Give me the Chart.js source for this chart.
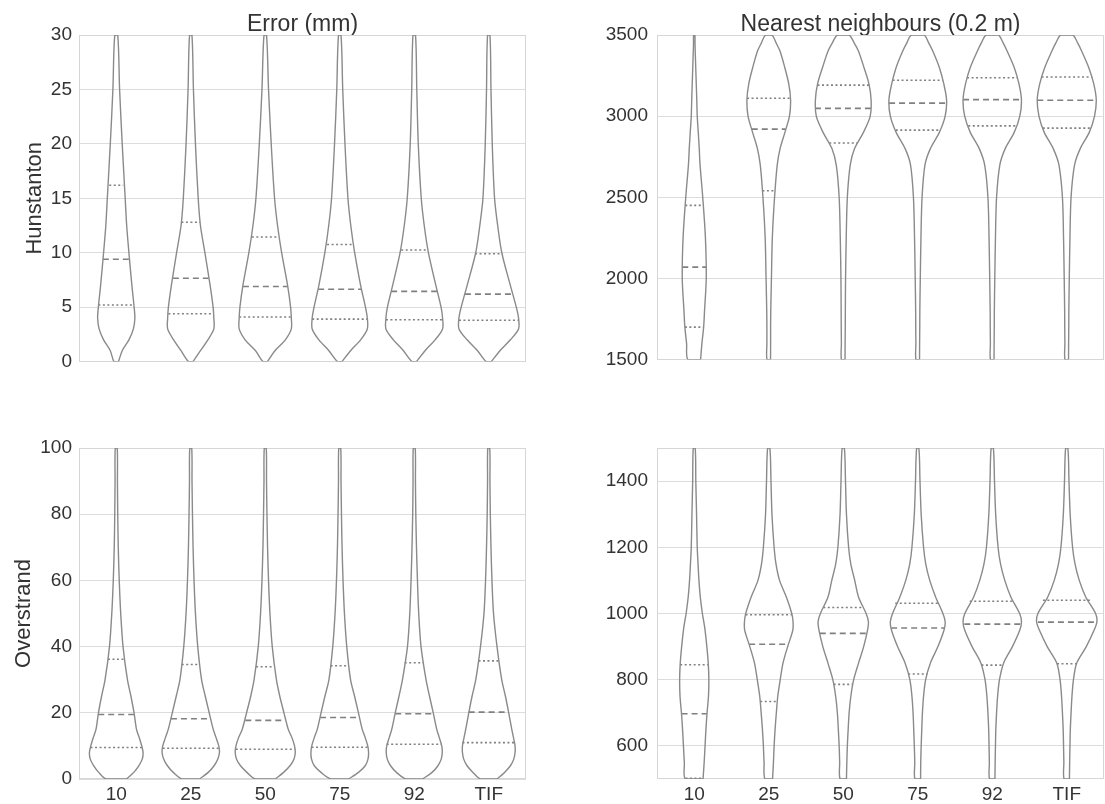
<!DOCTYPE html>
<html>
<head>
<meta charset="utf-8">
<script src="https://cdn.jsdelivr.net/npm/chart.js@4.4.1/dist/chart.umd.min.js"></script>
<style>
  body { margin: 0; background: #fff; width: 1105px; height: 804px; overflow: hidden; position: relative; }
  .panel { position: absolute; }
</style>
</head>
<body>
<div class="panel" style="left:0;top:0;width:540px;height:380px"><canvas id="hunErr"></canvas></div>
<div class="panel" style="left:560px;top:0;width:545px;height:380px"><canvas id="hunNN"></canvas></div>
<div class="panel" style="left:0;top:400px;width:540px;height:404px"><canvas id="ovsErr"></canvas></div>
<div class="panel" style="left:560px;top:400px;width:545px;height:404px"><canvas id="ovsNN"></canvas></div>
<script>
const categories = ["10", "25", "50", "75", "92", "TIF"];

// Hunstanton, error (mm). Violin half-widths are in category units.
const hunErrLevels = [0, 1, 2, 3, 4, 5, 7, 10, 12.5, 15, 20, 25, 30];
const hunErrWidths = [
  [0.03, 0.08, 0.17, 0.23, 0.25, 0.24, 0.21, 0.17, 0.14, 0.12, 0.08, 0.045, 0.02],
  [0.03, 0.13, 0.23, 0.31, 0.31, 0.30, 0.26, 0.19, 0.13, 0.10, 0.063, 0.036, 0.016],
  [0.03, 0.13, 0.27, 0.35, 0.35, 0.34, 0.30, 0.22, 0.165, 0.125, 0.08, 0.044, 0.017],
  [0.03, 0.145, 0.28, 0.37, 0.37, 0.345, 0.28, 0.20, 0.148, 0.11, 0.07, 0.04, 0.017],
  [0.03, 0.145, 0.28, 0.38, 0.38, 0.36, 0.29, 0.19, 0.134, 0.094, 0.054, 0.034, 0.017],
  [0.035, 0.15, 0.29, 0.40, 0.40, 0.37, 0.29, 0.175, 0.12, 0.078, 0.047, 0.03, 0.016]
];
const hunErrQ1 = [5.2, 4.4, 4.1, 3.9, 3.85, 3.8];
const hunErrMed = [9.4, 7.65, 6.9, 6.65, 6.45, 6.2];
const hunErrQ3 = [16.2, 12.8, 11.45, 10.75, 10.25, 9.9];
const hunErrQ1W = [0.24, 0.30, 0.35, 0.37, 0.38, 0.40];
const hunErrMedW = [0.18, 0.24, 0.30, 0.29, 0.31, 0.32];
const hunErrQ3W = [0.094, 0.125, 0.18, 0.17, 0.175, 0.184];
const hunErrTicks = [0, 5, 10, 15, 20, 25, 30];

// Hunstanton, nearest neighbours (0.2 m)
const hunNNLevels = [1500, 1600, 1700, 1800, 2000, 2250, 2500, 2700, 2800, 2900, 3000, 3100, 3200, 3300, 3400, 3450, 3500];
const hunNNWidths = [
  [0.085, 0.103, 0.126, 0.138, 0.161, 0.150, 0.114, 0.078, 0.067, 0.054, 0.040, 0.034, 0.027, 0.020, 0.013, 0.010, 0.008],
  [0.024, 0.025, 0.025, 0.027, 0.036, 0.048, 0.078, 0.114, 0.152, 0.217, 0.278, 0.293, 0.268, 0.215, 0.152, 0.100, 0.043],
  [0.024, 0.025, 0.027, 0.028, 0.031, 0.040, 0.055, 0.094, 0.152, 0.271, 0.362, 0.374, 0.344, 0.278, 0.205, 0.148, 0.078],
  [0.024, 0.025, 0.027, 0.028, 0.034, 0.043, 0.058, 0.097, 0.169, 0.290, 0.368, 0.387, 0.349, 0.290, 0.203, 0.148, 0.085],
  [0.024, 0.025, 0.027, 0.028, 0.034, 0.043, 0.058, 0.102, 0.174, 0.295, 0.370, 0.392, 0.358, 0.295, 0.201, 0.148, 0.082],
  [0.024, 0.025, 0.027, 0.028, 0.034, 0.043, 0.058, 0.105, 0.181, 0.302, 0.373, 0.396, 0.362, 0.295, 0.201, 0.148, 0.081]
];
const hunNNQ1 = [1700, 2540, 2835, 2914, 2940, 2926];
const hunNNMed = [2070, 2920, 3048, 3080, 3102, 3098];
const hunNNQ3 = [2450, 3110, 3191, 3221, 3237, 3241];
const hunNNQ1W = [0.126, 0.085, 0.188, 0.295, 0.322, 0.322];
const hunNNMedW = [0.161, 0.228, 0.38, 0.385, 0.392, 0.396];
const hunNNQ3W = [0.121, 0.291, 0.346, 0.338, 0.338, 0.338];
const hunNNTicks = [1500, 2000, 2500, 3000, 3500];

// Overstrand, error (mm)
const ovsErrLevels = [0, 2, 4, 6, 8, 10, 12.5, 15, 20, 25, 30, 40, 50, 60, 70, 80, 90, 100];
const ovsErrWidths = [
  [0.137, 0.235, 0.302, 0.349, 0.360, 0.342, 0.309, 0.272, 0.239, 0.197, 0.150, 0.091, 0.060, 0.040, 0.027, 0.020, 0.016, 0.013],
  [0.117, 0.235, 0.313, 0.362, 0.385, 0.376, 0.340, 0.302, 0.248, 0.195, 0.145, 0.094, 0.063, 0.044, 0.031, 0.023, 0.017, 0.013],
  [0.134, 0.246, 0.332, 0.385, 0.403, 0.393, 0.358, 0.309, 0.251, 0.195, 0.150, 0.094, 0.063, 0.044, 0.031, 0.023, 0.017, 0.013],
  [0.118, 0.252, 0.342, 0.379, 0.387, 0.376, 0.342, 0.302, 0.251, 0.199, 0.145, 0.094, 0.063, 0.044, 0.031, 0.023, 0.017, 0.013],
  [0.111, 0.239, 0.318, 0.362, 0.376, 0.369, 0.336, 0.302, 0.255, 0.205, 0.158, 0.091, 0.060, 0.043, 0.030, 0.021, 0.016, 0.013],
  [0.111, 0.212, 0.291, 0.336, 0.353, 0.353, 0.332, 0.309, 0.268, 0.224, 0.174, 0.111, 0.064, 0.043, 0.030, 0.021, 0.016, 0.013]
];
const ovsErrQ1 = [9.5, 9.3, 9.0, 9.6, 10.5, 11.0];
const ovsErrMed = [19.5, 18.2, 17.7, 18.6, 19.7, 20.2];
const ovsErrQ3 = [36.2, 34.6, 33.9, 34.2, 35.1, 35.7];
const ovsErrQ1W = [0.345, 0.377, 0.396, 0.379, 0.370, 0.353];
const ovsErrMedW = [0.242, 0.266, 0.268, 0.264, 0.255, 0.270];
const ovsErrQ3W = [0.111, 0.121, 0.123, 0.123, 0.128, 0.138];
const ovsErrTicks = [0, 20, 40, 60, 80, 100];

// Overstrand, nearest neighbours (0.2 m)
const ovsNNLevels = [500, 550, 600, 650, 700, 750, 800, 850, 900, 950, 975, 1000, 1050, 1100, 1150, 1200, 1300, 1400, 1500];
const ovsNNWidths = [
  [0.118, 0.133, 0.145, 0.157, 0.172, 0.191, 0.196, 0.188, 0.169, 0.145, 0.128, 0.109, 0.081, 0.063, 0.051, 0.040, 0.031, 0.021, 0.013],
  [0.051, 0.063, 0.072, 0.085, 0.102, 0.121, 0.154, 0.191, 0.254, 0.323, 0.326, 0.309, 0.236, 0.145, 0.097, 0.072, 0.043, 0.030, 0.015],
  [0.043, 0.048, 0.055, 0.066, 0.079, 0.102, 0.140, 0.205, 0.274, 0.326, 0.338, 0.307, 0.205, 0.154, 0.101, 0.072, 0.043, 0.030, 0.015],
  [0.038, 0.040, 0.046, 0.054, 0.063, 0.078, 0.106, 0.169, 0.271, 0.353, 0.368, 0.338, 0.240, 0.161, 0.107, 0.078, 0.046, 0.030, 0.015],
  [0.036, 0.039, 0.043, 0.048, 0.058, 0.072, 0.097, 0.152, 0.271, 0.370, 0.392, 0.368, 0.250, 0.168, 0.111, 0.078, 0.046, 0.030, 0.015],
  [0.036, 0.039, 0.043, 0.048, 0.058, 0.070, 0.090, 0.133, 0.262, 0.368, 0.405, 0.387, 0.255, 0.168, 0.111, 0.078, 0.046, 0.030, 0.015]
];
const ovsNNQ1 = [502, 734, 786, 817, 844, 848];
const ovsNNMed = [697, 907, 940, 956, 968, 974];
const ovsNNQ3 = [845, 996, 1018, 1031, 1037, 1040];
const ovsNNQ1W = [0.118, 0.114, 0.129, 0.128, 0.145, 0.131];
const ovsNNMedW = [0.170, 0.263, 0.315, 0.357, 0.375, 0.387];
const ovsNNQ3W = [0.189, 0.311, 0.268, 0.302, 0.302, 0.32];
const ovsNNTicks = [600, 800, 1000, 1200, 1400];

const FONT = '"Liberation Sans", Arial, sans-serif';
const TEXT = '#333';
const OUTLINE = '#8a8a8a';
const QLINE = '#808080';
const GRID = '#dcdcdc';
const FRAME = '#d6d6d6';

// outline of one violin: right side going up, left side coming back down
function violinPoints(i, levels, widths) {
  const right = levels.map((y, k) => ({ x: i + widths[k], y }));
  const left = levels.map((y, k) => ({ x: i - widths[k], y })).reverse();
  return right.concat(left, [right[0]]);
}

function quartileLine(i, y, w, dash) {
  return {
    data: [{ x: i - w, y }, { x: i + w, y }],
    showLine: true, borderColor: QLINE, borderWidth: 1.6, borderDash: dash,
    pointRadius: 0, tension: 0
  };
}

const frame = {
  id: 'frame',
  beforeDatasetsDraw(chart) {
    const { ctx, chartArea: a } = chart;
    ctx.save();
    ctx.strokeStyle = FRAME;
    ctx.lineWidth = 1;
    ctx.strokeRect(Math.round(a.left) + 0.5, Math.round(a.top) + 0.5,
      Math.round(a.width) - 1, Math.round(a.height) - 1);
    ctx.restore();
  }
};

function makePanel(id, o) {
  const datasets = [];
  o.widths.forEach((w, i) => {
    datasets.push({
      data: violinPoints(i, o.levels, w),
      showLine: true, borderColor: OUTLINE, borderWidth: 1.4,
      pointRadius: 0, tension: 0.3, fill: false
    });
  });
  for (let i = 0; i < categories.length; i++) {
    datasets.push(quartileLine(i, o.q1[i], o.q1W[i], [2, 2.5]));
    datasets.push(quartileLine(i, o.med[i], o.medW[i], [6, 4]));
    datasets.push(quartileLine(i, o.q3[i], o.q3W[i], [2, 2.5]));
  }

  new Chart(document.getElementById(id), {
    type: 'scatter',
    data: { datasets },
    options: {
      responsive: true,
      maintainAspectRatio: false,
      animation: false,
      events: [],
      layout: { padding: o.padding },
      plugins: {
        legend: { display: false },
        tooltip: { enabled: false },
        title: {
          display: !!o.title,
          text: o.title,
          fullSize: false,
          color: TEXT,
          font: { family: FONT, size: 23, weight: 'normal', lineHeight: 1 },
          padding: { top: 13, bottom: -1 }
        }
      },
      scales: {
        x: {
          type: 'linear', min: -0.5, max: 5.5,
          grid: { display: false, drawTicks: false },
          border: { display: false },
          afterBuildTicks: a => { a.ticks = categories.map((c, i) => ({ value: i })); },
          ticks: {
            display: o.showX, autoSkip: false, maxRotation: 0, padding: 4,
            color: TEXT, font: { family: FONT, size: 19 },
            callback: v => categories[v]
          },
          afterFit: a => { a.height = o.xHeight; }
        },
        y: {
          type: 'linear', min: o.yMin, max: o.yMax,
          grid: { color: GRID, drawTicks: false, lineWidth: 1 },
          border: { display: false },
          afterBuildTicks: a => { a.ticks = o.yTicks.map(v => ({ value: v })); },
          ticks: {
            padding: o.tickPad, color: TEXT, font: { family: FONT, size: 19 },
            callback: v => String(v)
          },
          title: {
            display: !!o.yTitle, text: o.yTitle, color: TEXT,
            font: { family: FONT, size: 22, lineHeight: 1 }, padding: 0
          },
          afterFit: a => { a.width = o.yWidth; }
        }
      }
    },
    plugins: [frame]
  });
}

makePanel('hunErr', {
  title: 'Error (mm)', yTitle: 'Hunstanton',
  levels: hunErrLevels, widths: hunErrWidths,
  q1: hunErrQ1, med: hunErrMed, q3: hunErrQ3,
  q1W: hunErrQ1W, medW: hunErrMedW, q3W: hunErrQ3W,
  yMin: 0, yMax: 30, yTicks: hunErrTicks,
  padding: { left: 24, right: 14, top: 0, bottom: 15 },
  yWidth: 55, xHeight: 0, showX: false, tickPad: 7
});

makePanel('hunNN', {
  title: 'Nearest neighbours (0.2 m)', yTitle: '',
  levels: hunNNLevels, widths: hunNNWidths,
  q1: hunNNQ1, med: hunNNMed, q3: hunNNQ3,
  q1W: hunNNQ1W, medW: hunNNMedW, q3W: hunNNQ3W,
  yMin: 1500, yMax: 3500, yTicks: hunNNTicks,
  padding: { left: 0, right: 1, top: 0, bottom: 15 },
  yWidth: 97, xHeight: 0, showX: false, tickPad: 9
});

makePanel('ovsErr', {
  title: '', yTitle: 'Overstrand',
  levels: ovsErrLevels, widths: ovsErrWidths,
  q1: ovsErrQ1, med: ovsErrMed, q3: ovsErrQ3,
  q1W: ovsErrQ1W, medW: ovsErrMedW, q3W: ovsErrQ3W,
  yMin: 0, yMax: 100, yTicks: ovsErrTicks,
  padding: { left: 13, right: 14, top: 48, bottom: 0 },
  yWidth: 66, xHeight: 25, showX: true, tickPad: 7
});

makePanel('ovsNN', {
  title: '', yTitle: '',
  levels: ovsNNLevels, widths: ovsNNWidths,
  q1: ovsNNQ1, med: ovsNNMed, q3: ovsNNQ3,
  q1W: ovsNNQ1W, medW: ovsNNMedW, q3W: ovsNNQ3W,
  yMin: 500, yMax: 1500, yTicks: ovsNNTicks,
  padding: { left: 0, right: 1, top: 48, bottom: 0 },
  yWidth: 97, xHeight: 25, showX: true, tickPad: 9
});
</script>
</body>
</html>
